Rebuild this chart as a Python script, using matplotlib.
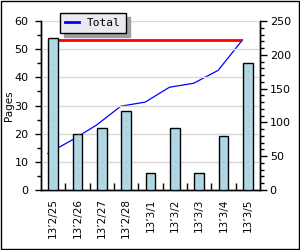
import numpy as np
import matplotlib
matplotlib.use('Agg')
import matplotlib.pyplot as plt
from matplotlib.patches import Rectangle

dates = ['13’2/25', '13’2/26', '13’2/27', '13’2/28', '13’3/1',
         '13’3/2', '13’3/3', '13’3/4', '13’3/5']
pages = [54, 20, 22, 28, 6, 22, 6, 19, 45]
total = [54, 74, 96, 124, 130, 152, 158, 177, 222]
total_max = 222

plt.rcParams['font.family'] = 'DejaVu Sans'

fig = plt.figure(figsize=(3.0, 2.5), dpi=100)
fig.patch.set_facecolor('white')
fig.patches.append(Rectangle((0.002, 0.004), 0.993, 0.992, transform=fig.transFigure,
                             fill=False, edgecolor='black', lw=1))

ax = fig.add_axes([41/300, 1-190/250, 219/300, 169/250])
ax2 = ax.twinx()
ax.set_zorder(ax2.get_zorder() + 1)
ax.patch.set_visible(False)

x = np.arange(len(dates))
ax.bar(x, pages, width=0.41, color='#add8e6', edgecolor='black', lw=1, zorder=3)
ax.vlines(x, 0, pages, colors='#f0a8a8', linestyles=(0, (1, 4)), lw=1, zorder=4)

# line drawn slightly left of bar centres, as in the original
lx = x - 0.22
ax2.plot(lx, total, color='blue', lw=0.9)
ax2.hlines(total_max, lx[0], lx[-1], colors='red', lw=2)

ax.set_xlim(-0.5, len(dates) - 0.5)
ax.set_ylim(0, 60)
ax2.set_ylim(0, 250)

ax.set_yticks(range(0, 61, 10))
ax.set_yticks(range(5, 60, 10), minor=True)
ax2.set_yticks(range(0, 251, 50))
ax2.set_yticks([v for v in range(0, 251, 10) if v % 50], minor=True)
ax.yaxis.grid(True, color='#d8d8d8', lw=1)
ax.set_axisbelow(True)

ax.set_xticks(np.arange(0.5, len(dates) - 1, 1.0))
ax.set_xticklabels([])
ax.set_xticks(x, minor=True)
ax.set_xticklabels(dates, minor=True, rotation=90, fontsize=7.5)
ax.tick_params(axis='x', which='major', direction='in', length=5, width=1)
ax.tick_params(axis='x', which='minor', length=0, pad=6)

ax.tick_params(axis='y', which='major', length=4, width=1, labelsize=8, pad=5)
ax.tick_params(axis='y', which='minor', length=3, width=1)
ax2.tick_params(axis='y', which='major', length=5, width=1, labelsize=8, pad=2)
ax2.tick_params(axis='y', which='minor', length=3, width=1)

ax.set_ylabel('Pages', fontsize=7.5)
ax.yaxis.set_label_coords(-0.125, 0.5)

for a in (ax, ax2):
    a.spines['top'].set_visible(False)
    for s in ('left', 'right', 'bottom'):
        a.spines[s].set_linewidth(1)

leg = fig.legend(handles=[plt.Line2D([], [], color='blue', lw=2)], labels=['Total'],
                 loc='upper left', bbox_to_anchor=(60/300, 1-13/250),
                 prop={'family': 'DejaVu Sans Mono', 'size': 8},
                 handlelength=1.3, handletextpad=0.7,
                 borderpad=0.45, borderaxespad=0, fancybox=False,
                 shadow={'ox': 3, 'oy': -3, 'color': '#a0a0a0', 'alpha': 1},
                 framealpha=1, facecolor='#ece9f0', edgecolor='black')
leg.get_frame().set_linewidth(1)

fig.savefig('out.png', dpi=100)
